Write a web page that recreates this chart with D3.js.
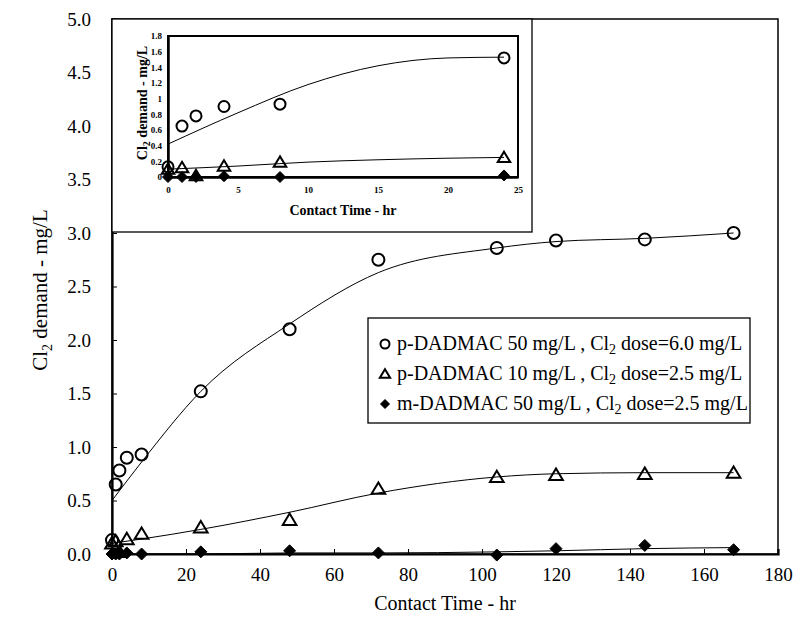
<!DOCTYPE html>
<html>
<head>
<meta charset="utf-8">
<script src="https://cdn.jsdelivr.net/npm/d3@7"></script>
<style>
  body { margin: 0; background: #fff; }
  svg { display: block; }
  svg text { font-family: 'Liberation Serif', 'Times New Roman', Times, serif; }
</style>
</head>
<body>
<div id="chart"></div>
<script>
// measured points
const times = [0, 1, 2, 4, 8, 24, 48, 72, 104, 120, 144, 168]
const pDadmac50 = [0.13, 0.65, 0.78, 0.90, 0.93, 1.52, 2.10, 2.75, 2.86, 2.93, 2.94, 3.00]
const pDadmac10 = [0.10, 0.12, 0.02, 0.14, 0.19, 0.25, 0.32, 0.61, 0.72, 0.74, 0.75, 0.76]
const mDadmac50 = [0.00, 0.00, 0.00, 0.01, 0.00, 0.02, 0.03, 0.01, -0.01, 0.05, 0.08, 0.04]

// fitted curves (main)
const fitTimes = [0, 8, 24, 48, 72, 104, 120, 144, 168]
const fitP50 = [0.50, 0.86, 1.52, 2.15, 2.63, 2.86, 2.92, 2.95, 3.00]
const fitP10 = [0.10, 0.14, 0.23, 0.39, 0.57, 0.72, 0.75, 0.76, 0.76]
const fitM50 = [0.00, 0.00, 0.00, 0.01, 0.01, 0.02, 0.03, 0.05, 0.06]

// fitted curves (inset, first day)
const insetFitTimes = [0, 5, 10, 15, 20, 24]
const insetFitP50 = [0.42, 0.82, 1.18, 1.42, 1.52, 1.53]
const insetFitP10 = [0.10, 0.14, 0.19, 0.22, 0.24, 0.25]
const insetFitM50 = [0.00, 0.00, 0.00, 0.00, 0.00, 0.00]

const xTicks = [0, 20, 40, 60, 80, 100, 120, 140, 160, 180]
const yTicks = [0, 0.5, 1, 1.5, 2, 2.5, 3, 3.5, 4, 4.5, 5]
const insetXTicks = [0, 5, 10, 15, 20, 25]
const insetYTicks = [0, 0.2, 0.4, 0.6, 0.8, 1, 1.2, 1.4, 1.6, 1.8]

const legendLabels = [
  ['p-DADMAC 50 mg/L , Cl', '2', ' dose=6.0 mg/L'],
  ['p-DADMAC 10 mg/L , Cl', '2', ' dose=2.5 mg/L'],
  ['m-DADMAC 50 mg/L , Cl', '2', ' dose=2.5 mg/L']
]

const W = 796
const H = 637

const svg = d3.select('#chart').append('svg')
  .attr('width', W)
  .attr('height', H)

svg.append('rect').attr('width', W).attr('height', H).attr('fill', '#fff')

const x = d3.scaleLinear().domain([0, 180]).range([112, 778])
const y = d3.scaleLinear().domain([0, 5]).range([554, 19])

const series = [
  { vals: pDadmac50, fit: fitP50, ifit: insetFitP50, shape: 'circle' },
  { vals: pDadmac10, fit: fitP10, ifit: insetFitP10, shape: 'triangle' },
  { vals: mDadmac50, fit: fitM50, ifit: insetFitM50, shape: 'diamond' }
]

function marker (g, shape, cx, cy, s) {
  if (shape === 'circle') {
    g.append('circle').attr('cx', cx).attr('cy', cy).attr('r', s)
      .attr('fill', 'none').attr('stroke', '#000').attr('stroke-width', 2)
  } else if (shape === 'triangle') {
    const h = s * 1.9
    g.append('path')
      .attr('d', `M${cx},${cy - h * 0.55}L${cx + h * 0.6},${cy + h * 0.45}L${cx - h * 0.6},${cy + h * 0.45}Z`)
      .attr('fill', 'none').attr('stroke', '#000').attr('stroke-width', 2)
  } else {
    g.append('path')
      .attr('d', `M${cx},${cy - s}L${cx + s},${cy}L${cx},${cy + s}L${cx - s},${cy}Z`)
      .attr('fill', '#000').attr('stroke', '#000').attr('stroke-width', 1)
  }
}

// ---- main plot ----
const main = svg.append('g')

// frame
main.append('rect')
  .attr('x', x(0)).attr('y', y(5))
  .attr('width', x(180) - x(0)).attr('height', y(0) - y(5))
  .attr('fill', 'none').attr('stroke', '#000').attr('stroke-width', 1.5)

const xAxis = main.append('g')
  .attr('transform', `translate(0,${y(0)})`)
  .call(d3.axisBottom(x).tickValues(xTicks).tickSize(-5).tickPadding(14).tickFormat(d3.format('d')))
  .attr('font-family', null).attr('font-size', 19)
xAxis.select('.domain').attr('stroke-width', 2.2)

const yAxis = main.append('g')
  .attr('transform', `translate(${x(0)},0)`)
  .call(d3.axisLeft(y).tickValues(yTicks).tickSize(-5).tickPadding(21).tickFormat(d3.format('.1f')))
  .attr('font-family', null).attr('font-size', 19)
yAxis.select('.domain').attr('stroke-width', 2.2)

const line = d3.line()
  .x(d => x(d[0]))
  .y(d => y(d[1]))
  .curve(d3.curveMonotoneX)

series.forEach(s => {
  main.append('path')
    .attr('d', line(fitTimes.map((t, i) => [t, s.fit[i]])))
    .attr('fill', 'none').attr('stroke', '#000').attr('stroke-width', 1)
})

series.slice().reverse().forEach(s => {
  times.forEach((t, i) => marker(main, s.shape, x(t), y(s.vals[i]), 6))
})

// axis titles
const yTitle = main.append('text')
  .attr('transform', 'translate(47,290) rotate(-90)')
  .attr('text-anchor', 'middle')
  .attr('font-size', 21)
yTitle.append('tspan').text('Cl')
yTitle.append('tspan').text('2').attr('font-size', 14).attr('dy', 5)
yTitle.append('tspan').text(' demand - mg/L').attr('dy', -5)

main.append('text')
  .attr('x', 445).attr('y', 610)
  .attr('text-anchor', 'middle')
  .attr('font-size', 20)
  .text('Contact Time - hr')

// legend
const legend = main.append('g')
legend.append('rect')
  .attr('x', 368).attr('y', 318).attr('width', 382).attr('height', 105)
  .attr('fill', '#fff').attr('stroke', '#000').attr('stroke-width', 1.3)

series.forEach((s, i) => {
  const ly = 344 + i * 30
  marker(legend, s.shape, 385, ly, 4.5)
  const t = legend.append('text').attr('x', 397).attr('y', ly + 6).attr('font-size', 20)
  t.append('tspan').text(legendLabels[i][0])
  t.append('tspan').text(legendLabels[i][1]).attr('font-size', 14).attr('dy', 4)
  t.append('tspan').text(legendLabels[i][2]).attr('dy', -4)
})

// ---- inset ----
const inset = svg.append('g')
inset.append('rect')
  .attr('x', 112).attr('y', 19).attr('width', 420).attr('height', 213)
  .attr('fill', '#fff').attr('stroke', '#000').attr('stroke-width', 1.3)

const ix = d3.scaleLinear().domain([0, 25]).range([168, 518])
const iy = d3.scaleLinear().domain([0, 1.8]).range([177, 36])

inset.append('rect')
  .attr('x', ix(0)).attr('y', iy(1.8))
  .attr('width', ix(25) - ix(0)).attr('height', iy(0) - iy(1.8))
  .attr('fill', 'none').attr('stroke', '#000').attr('stroke-width', 2)

const ixAxis = inset.append('g')
  .attr('transform', `translate(0,${iy(0)})`)
  .call(d3.axisBottom(ix).tickValues(insetXTicks).tickSize(0).tickPadding(10).tickFormat(d3.format('d')))
  .attr('font-family', null).attr('font-size', 9).attr('font-weight', 'bold')
ixAxis.select('.domain').attr('stroke-width', 2.5)

const iyAxis = inset.append('g')
  .attr('transform', `translate(${ix(0)},0)`)
  .call(d3.axisLeft(iy).tickValues(insetYTicks).tickSize(0).tickPadding(6).tickFormat(d => String(+d.toFixed(1))))
  .attr('font-family', null).attr('font-size', 9).attr('font-weight', 'bold')
iyAxis.select('.domain').attr('stroke-width', 2.5)

const iline = d3.line()
  .x(d => ix(d[0]))
  .y(d => iy(d[1]))
  .curve(d3.curveMonotoneX)

series.forEach(s => {
  inset.append('path')
    .attr('d', iline(insetFitTimes.map((t, i) => [t, s.ifit[i]])))
    .attr('fill', 'none').attr('stroke', '#000').attr('stroke-width', 1)
})

series.slice().reverse().forEach(s => {
  times.forEach((t, i) => {
    if (t <= 24) marker(inset, s.shape, ix(t), iy(s.vals[i]), 5.5)
  })
})

const iyTitle = inset.append('text')
  .attr('transform', 'translate(147,103) rotate(-90)')
  .attr('text-anchor', 'middle')
  .attr('font-size', 14)
  .attr('font-weight', 'bold')
iyTitle.append('tspan').text('Cl')
iyTitle.append('tspan').text('2').attr('font-size', 10).attr('dy', 3)
iyTitle.append('tspan').text(' demand - mg/L').attr('dy', -3)

inset.append('text')
  .attr('x', 343).attr('y', 215)
  .attr('text-anchor', 'middle')
  .attr('font-size', 14)
  .attr('font-weight', 'bold')
  .text('Contact Time - hr')
</script>
</body>
</html>
